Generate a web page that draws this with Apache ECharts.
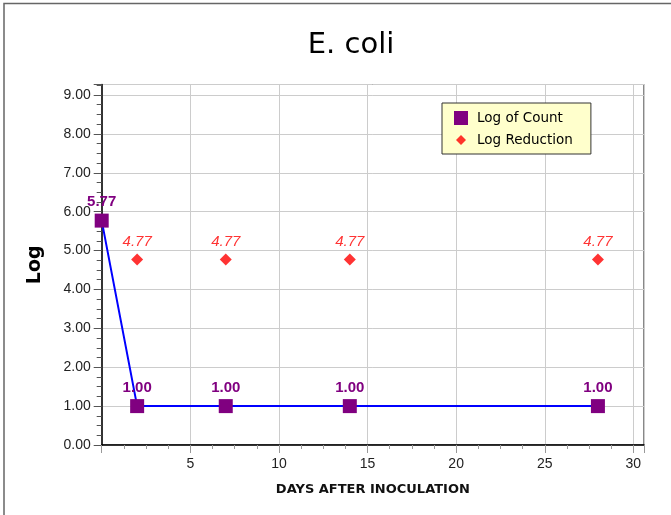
<!DOCTYPE html>
<html lang="en">
	<head>
		<meta charset="UTF-8" />
		<title>E. coli</title>
		<style>
			* {
				box-sizing: border-box;
				margin: 0;
				padding: 0;
			}

			.container {
				width: 671px;
				height: 515px;
				background-color: #fff;
			}
		</style>
	</head>
	<body>
		<div class="container" id="chart"></div>
		<script src="https://cdn.jsdelivr.net/npm/echarts@6/dist/echarts.min.js"></script>
		<script>
			// 数据
			const countDays = [0, 2, 7, 14, 28]
			const countValues = [5.77, 1.00, 1.00, 1.00, 1.00]
			const reductionDays = [2, 7, 14, 28]
			const reductionValues = [4.77, 4.77, 4.77, 4.77]
			const seriesNames = ['Log of Count', 'Log Reduction']

			const tickFont = 'Liberation Sans'
			const textFont = 'DejaVu Sans'

			// 小菱形图标（带空白边距）
			const smallDiamond = 'path://M0,0 M14,14 M7,2 L12,7 L7,12 L2,7 Z'

			const chart = echarts.init(document.getElementById('chart'))
			chart.setOption({
				animation: false,
				title: {
					text: 'E. coli',
					left: 346,
					top: 26,
					textAlign: 'center',
					textStyle: {
						fontFamily: textFont,
						fontWeight: 'normal',
						fontSize: 29,
						color: '#000'
					}
				},
				graphic: [
					{
						type: 'polyline',
						shape: { points: [[4, 515], [4, 3.5], [671, 3.5]] },
						style: { stroke: '#666', lineWidth: 1.5, fill: null }
					}
				],
				legend: {
					orient: 'vertical',
					left: 442,
					top: 103,
					padding: [8, 18, 7, 12],
					itemGap: 8,
					itemWidth: 14,
					itemHeight: 14,
					backgroundColor: '#ffffcc',
					borderColor: '#333',
					borderWidth: 1,
					textStyle: {
						fontFamily: textFont,
						fontSize: 13.5,
						color: '#000',
						padding: [0, 0, 0, 4]
					},
					data: [
						{ name: seriesNames[0], icon: 'rect' },
						{ name: seriesNames[1], icon: smallDiamond }
					]
				},
				grid: {
					left: 101.7,
					right: 27,
					top: 84.5,
					bottom: 70,
					show: true,
					borderColor: '#111',
					borderWidth: 1
				},
				xAxis: {
					type: 'value',
					min: 0,
					max: 30.6,
					interval: 5,
					name: 'DAYS AFTER INOCULATION',
					nameLocation: 'middle',
					nameGap: 38,
					nameTextStyle: {
						fontFamily: textFont,
						fontWeight: 'bold',
						fontSize: 13,
						color: '#111'
					},
					axisLine: { lineStyle: { color: '#000', width: 1.5 } },
					axisTick: { length: 8, lineStyle: { color: '#999' } },
					minorTick: { show: true, splitNumber: 4, length: 4, lineStyle: { color: '#999' } },
					axisLabel: {
						margin: 12,
						fontFamily: tickFont,
						fontSize: 14,
						color: '#222',
						showMaxLabel: false,
						formatter: v => (v > 0 && v % 5 === 0 ? String(v) : '')
					},
					splitLine: { lineStyle: { color: '#ccc' } }
				},
				yAxis: {
					type: 'value',
					min: 0,
					max: 9.27,
					interval: 1,
					name: 'Log',
					nameLocation: 'middle',
					nameGap: 57,
					nameTextStyle: {
						fontFamily: textFont,
						fontWeight: 'bold',
						fontSize: 19,
						color: '#000'
					},
					axisLine: { show: true, lineStyle: { color: '#000', width: 1.5 } },
					axisTick: { show: true, length: 8, lineStyle: { color: '#555' } },
					minorTick: { show: true, splitNumber: 4, length: 5, lineStyle: { color: '#555' } },
					axisLabel: {
						margin: 11,
						fontFamily: tickFont,
						fontSize: 14,
						color: '#222',
						showMaxLabel: false,
						formatter: v => (Number.isInteger(v) ? v.toFixed(2) : '')
					},
					splitLine: { lineStyle: { color: '#ccc' } }
				},
				series: [
					{
						name: seriesNames[0],
						type: 'line',
						data: countDays.map((d, i) => [d, countValues[i]]),
						symbol: 'rect',
						symbolSize: 14,
						itemStyle: { color: '#800080' },
						lineStyle: { color: '#0000ff', width: 2 },
						label: {
							show: true,
							position: 'top',
							distance: 4,
							fontFamily: tickFont,
							fontWeight: 'bold',
							fontSize: 15,
							color: '#800080',
							formatter: p => p.value[1].toFixed(2)
						},
						z: 3
					},
					{
						name: seriesNames[1],
						type: 'scatter',
						data: reductionDays.map((d, i) => [d, reductionValues[i]]),
						symbol: 'diamond',
						symbolSize: 12,
						itemStyle: { color: '#ff0000' },
						label: {
							show: true,
							position: 'top',
							distance: 4,
							fontFamily: tickFont,
							fontStyle: 'italic',
							fontSize: 15,
							color: '#ff0000',
							formatter: p => p.value[1].toFixed(2)
						},
						z: 3
					}
				]
			})
		</script>
	</body>
</html>
